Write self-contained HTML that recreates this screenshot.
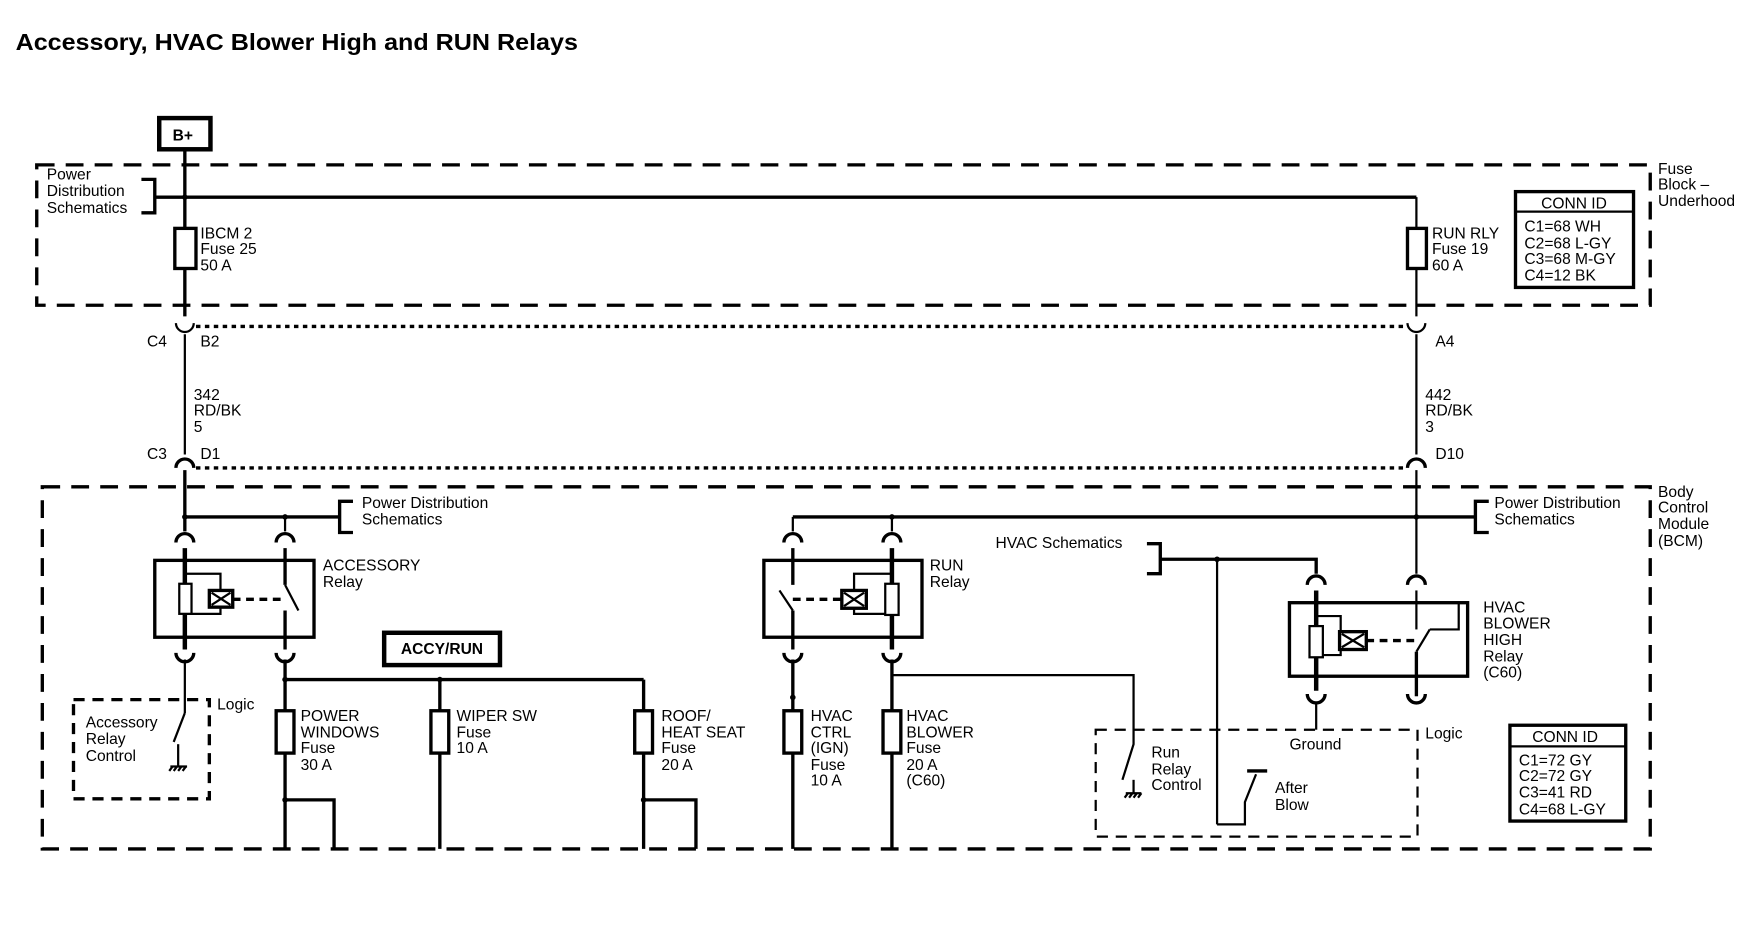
<!DOCTYPE html>
<html><head><meta charset="utf-8"><style>
html,body{margin:0;padding:0;background:#fff;}
svg{display:block}
text{font-family:"Liberation Sans",sans-serif;font-size:14px;fill:#000}
</style></head><body>
<svg width="1746" height="928" viewBox="0 0 1568 833" preserveAspectRatio="none" xmlns="http://www.w3.org/2000/svg">
<rect width="1568" height="833" fill="#fff"/>
<text x="14" y="45" textLength="505" lengthAdjust="spacingAndGlyphs" style="font-size:21px;font-weight:bold">Accessory, HVAC Blower High and RUN Relays</text>
<g stroke="#000" fill="none" stroke-width="2">
<rect x="143" y="106" width="46" height="28" stroke-width="4"/>
<rect x="33" y="148" width="1449" height="126" stroke-width="3" stroke-dasharray="16,10"/>
<rect x="38" y="437" width="1444" height="325" stroke-width="3" stroke-dasharray="16,10"/>
<line x1="176" y1="293" x2="1264" y2="293" stroke-width="3" stroke-dasharray="4,4"/>
<line x1="176" y1="420" x2="1264" y2="420" stroke-width="3" stroke-dasharray="4,4"/>
<line x1="166" y1="134" x2="166" y2="284" stroke-width="3"/>
<line x1="166" y1="300" x2="166" y2="408"/>
<line x1="166" y1="422" x2="166" y2="477" stroke-width="3"/>
<line x1="1272" y1="177" x2="1272" y2="284"/>
<line x1="1272" y1="300" x2="1272" y2="408"/>
<line x1="1272" y1="422" x2="1272" y2="515"/>
<line x1="139" y1="177" x2="1272" y2="177" stroke-width="3"/>
<path d="M127 161 H139 V191 H127" stroke-width="3"/>
<rect x="157" y="205" width="19" height="36" fill="#fff" stroke-width="3"/>
<rect x="1264" y="205" width="17" height="36" fill="#fff" stroke-width="3"/>
<path d="M158 290 A8 8 0 0 0 174 290"/><path d="M1264 290 A8 8 0 0 0 1280 290"/>
<path d="M158 420 A8 8 0 0 1 174 420" stroke-width="3"/><path d="M1264 420 A8 8 0 0 1 1280 420" stroke-width="3"/>
<rect x="1361" y="172" width="106" height="86" stroke-width="3"/><line x1="1361" y1="190" x2="1467" y2="190"/>
<rect x="1356" y="651" width="104" height="86" stroke-width="3"/><line x1="1356" y1="670" x2="1460" y2="670"/>
<line x1="166" y1="464" x2="305" y2="464" stroke-width="3"/>
<path d="M317 450 H305 V478 H317" stroke-width="3"/>
<line x1="712" y1="464" x2="1325" y2="464" stroke-width="3"/>
<path d="M1337 450 H1325 V478 H1337" stroke-width="3"/>
<line x1="256" y1="464" x2="256" y2="477"/>
<line x1="712" y1="464" x2="712" y2="477"/>
<line x1="801" y1="464" x2="801" y2="477"/>
<path d="M158 487 A8 8 0 0 1 174 487 M248 487 A8 8 0 0 1 264 487" stroke-width="3"/>
<path d="M158 586 A8 8 0 0 0 174 586 M248 586 A8 8 0 0 0 264 586" stroke-width="3"/>
<rect x="139" y="503" width="143" height="69" stroke-width="3"/>
<line x1="166" y1="492" x2="166" y2="583" stroke-width="4"/>
<line x1="256" y1="492" x2="256" y2="525" stroke-width="3"/>
<line x1="256" y1="548" x2="256" y2="583" stroke-width="3"/>
<line x1="256" y1="525" x2="268" y2="548" stroke-width="2"/>
<path d="M166 515 H198 V551 H166"/>
<rect x="161" y="524" width="11" height="27" fill="#fff"/>
<rect x="188" y="530" width="21" height="15" fill="#fff" stroke-width="3"/>
<path d="M190 532 L207 543 M207 532 L190 543"/>
<line x1="209" y1="538" x2="256" y2="538" stroke-dasharray="7,5" stroke-width="3"/>
<line x1="166" y1="592" x2="166" y2="640"/>
<line x1="166" y1="640" x2="156" y2="666"/>
<line x1="160" y1="668" x2="160" y2="688"/>
<path d="M153 688 H168 M155 688 l-3 4 M159 688 l-3 4 M163 688 l-3 4 M167 688 l-3 4" stroke-width="2"/>
<line x1="256" y1="592" x2="256" y2="762" stroke-width="3"/>
<rect x="66" y="628" width="122" height="89" stroke-width="3" stroke-dasharray="10,7"/>
<rect x="345" y="568" width="104" height="29" stroke-width="4"/>
<line x1="256" y1="610" x2="578" y2="610" stroke-width="3"/>
<line x1="395" y1="610" x2="395" y2="762" stroke-width="3"/>
<line x1="578" y1="610" x2="578" y2="762" stroke-width="3"/>
<rect x="248" y="638" width="16" height="38" fill="#fff" stroke-width="3"/>
<rect x="387" y="638" width="16" height="38" fill="#fff" stroke-width="3"/>
<rect x="570" y="638" width="16" height="38" fill="#fff" stroke-width="3"/>
<path d="M256 718 H300 V762" stroke-width="3"/>
<path d="M578 718 H625 V762" stroke-width="3"/>
<path d="M704 487 A8 8 0 0 1 720 487 M793 487 A8 8 0 0 1 809 487" stroke-width="3"/>
<path d="M704 586 A8 8 0 0 0 720 586 M793 586 A8 8 0 0 0 809 586" stroke-width="3"/>
<rect x="686" y="503" width="142" height="69" stroke-width="3"/>
<line x1="712" y1="492" x2="712" y2="525" stroke-width="3"/>
<line x1="712" y1="548" x2="712" y2="583" stroke-width="3"/>
<line x1="712" y1="548" x2="700" y2="530"/>
<line x1="801" y1="492" x2="801" y2="583" stroke-width="4"/>
<path d="M801 515 H767 V551 H801"/>
<rect x="795" y="524" width="12" height="28" fill="#fff"/>
<rect x="756" y="530" width="22" height="16" fill="#fff" stroke-width="3"/>
<path d="M758 532 L776 544 M776 532 L758 544"/>
<line x1="712" y1="538" x2="756" y2="538" stroke-dasharray="7,5" stroke-width="3"/>
<line x1="712" y1="592" x2="712" y2="762" stroke-width="3"/>
<line x1="801" y1="592" x2="801" y2="762" stroke-width="3"/>
<rect x="704" y="638" width="16" height="38" fill="#fff" stroke-width="3"/>
<rect x="793" y="638" width="16" height="38" fill="#fff" stroke-width="3"/>
<path d="M801 606 H1018 V668 L1008 700"/>
<line x1="1018" y1="700" x2="1018" y2="712"/>
<path d="M1011 712 H1025 M1013 712 l-3 4 M1017 712 l-3 4 M1021 712 l-3 4 M1025 712 l-3 4"/>
<path d="M1030 488 H1042 V515 H1030" stroke-width="3"/>
<path d="M1042 502 H1182 V515" stroke-width="3"/>
<line x1="1093" y1="502" x2="1093" y2="740" stroke-width="2"/>
<path d="M1093 740 H1118 V720 L1128 695" stroke-width="2"/>
<line x1="1120" y1="692" x2="1138" y2="692" stroke-width="3"/>
<path d="M1174 525 A8 8 0 0 1 1190 525 M1264 525 A8 8 0 0 1 1280 525" stroke-width="3"/>
<path d="M1174 623 A8 8 0 0 0 1190 623 M1264 623 A8 8 0 0 0 1280 623" stroke-width="3"/>
<rect x="1158" y="541" width="160" height="66" stroke-width="3"/>
<line x1="1182" y1="530" x2="1182" y2="620" stroke-width="4"/>
<line x1="1272" y1="530" x2="1272" y2="565" stroke-width="2"/>
<line x1="1272" y1="585" x2="1272" y2="625" stroke-width="3"/>
<line x1="1272" y1="585" x2="1284" y2="565"/>
<path d="M1284 565 H1310 V541"/>
<path d="M1182 553 H1204 V588 H1182"/>
<rect x="1176" y="562" width="12" height="28" fill="#fff"/>
<rect x="1203" y="567" width="24" height="16" fill="#fff" stroke-width="3"/>
<path d="M1205 569 L1225 581 M1225 569 L1205 581"/>
<line x1="1227" y1="575" x2="1272" y2="575" stroke-dasharray="7,5" stroke-width="3"/>
<line x1="1182" y1="630" x2="1182" y2="655" stroke-width="2"/>
<rect x="984" y="655" width="289" height="96" stroke-width="2" stroke-dasharray="10,7"/>
</g>
<g fill="#000">
<circle cx="166" cy="177" r="2.5"/><circle cx="166" cy="464" r="2.5"/><circle cx="256" cy="464" r="2.5"/>
<circle cx="256" cy="610" r="2.5"/><circle cx="395" cy="610" r="2.5"/><circle cx="256" cy="718" r="2.5"/><circle cx="578" cy="718" r="2.5"/>
<circle cx="801" cy="464" r="2.5"/><circle cx="1272" cy="464" r="2.5"/><circle cx="1093" cy="502" r="2.5"/><circle cx="712" cy="626" r="2.5"/>
</g>
<text x="155" y="126" style="font-weight:bold">B+</text>
<text x="42" y="161">Power</text><text x="42" y="176">Distribution</text><text x="42" y="191">Schematics</text>
<text x="180" y="214">IBCM 2</text><text x="180" y="228">Fuse 25</text><text x="180" y="243">50 A</text>
<text x="1286" y="214">RUN RLY</text><text x="1286" y="228">Fuse 19</text><text x="1286" y="243">60 A</text>
<text x="1489" y="156">Fuse</text><text x="1489" y="170">Block –</text><text x="1489" y="185">Underhood</text>
<text x="1384" y="187">CONN ID</text>
<text x="1369" y="208">C1=68 WH</text><text x="1369" y="223">C2=68 L-GY</text><text x="1369" y="237">C3=68 M-GY</text><text x="1369" y="252">C4=12 BK</text>
<text x="132" y="311">C4</text><text x="180" y="311">B2</text><text x="1289" y="311">A4</text>
<text x="174" y="359">342</text><text x="174" y="373">RD/BK</text><text x="174" y="388">5</text>
<text x="1280" y="359">442</text><text x="1280" y="373">RD/BK</text><text x="1280" y="388">3</text>
<text x="132" y="412">C3</text><text x="180" y="412">D1</text><text x="1289" y="412">D10</text>
<text x="1489" y="446">Body</text><text x="1489" y="460">Control</text><text x="1489" y="475">Module</text><text x="1489" y="490">(BCM)</text>
<text x="325" y="456">Power Distribution</text><text x="325" y="471">Schematics</text>
<text x="1342" y="456">Power Distribution</text><text x="1342" y="471">Schematics</text>
<text x="290" y="512">ACCESSORY</text><text x="290" y="527">Relay</text>
<text x="835" y="512">RUN</text><text x="835" y="527">Relay</text>
<text x="894" y="492">HVAC Schematics</text>
<text x="1332" y="550">HVAC</text><text x="1332" y="564">BLOWER</text><text x="1332" y="579">HIGH</text><text x="1332" y="594">Relay</text><text x="1332" y="608">(C60)</text>
<text x="360" y="587" style="font-weight:bold">ACCY/RUN</text>
<text x="195" y="637">Logic</text>
<text x="77" y="653">Accessory</text><text x="77" y="668">Relay</text><text x="77" y="683">Control</text>
<text x="270" y="647">POWER</text><text x="270" y="662">WINDOWS</text><text x="270" y="676">Fuse</text><text x="270" y="691">30 A</text>
<text x="410" y="647">WIPER SW</text><text x="410" y="662">Fuse</text><text x="410" y="676">10 A</text>
<text x="594" y="647">ROOF/</text><text x="594" y="662">HEAT SEAT</text><text x="594" y="676">Fuse</text><text x="594" y="691">20 A</text>
<text x="728" y="647">HVAC</text><text x="728" y="662">CTRL</text><text x="728" y="676">(IGN)</text><text x="728" y="691">Fuse</text><text x="728" y="705">10 A</text>
<text x="814" y="647">HVAC</text><text x="814" y="662">BLOWER</text><text x="814" y="676">Fuse</text><text x="814" y="691">20 A</text><text x="814" y="705">(C60)</text>
<text x="1158" y="673">Ground</text><text x="1280" y="663">Logic</text>
<text x="1034" y="680">Run</text><text x="1034" y="695">Relay</text><text x="1034" y="709">Control</text>
<text x="1145" y="712">After</text><text x="1145" y="727">Blow</text>
<text x="1376" y="666">CONN ID</text>
<text x="1364" y="687">C1=72 GY</text><text x="1364" y="701">C2=72 GY</text><text x="1364" y="716">C3=41 RD</text><text x="1364" y="731">C4=68 L-GY</text>
</svg>
</body></html>
